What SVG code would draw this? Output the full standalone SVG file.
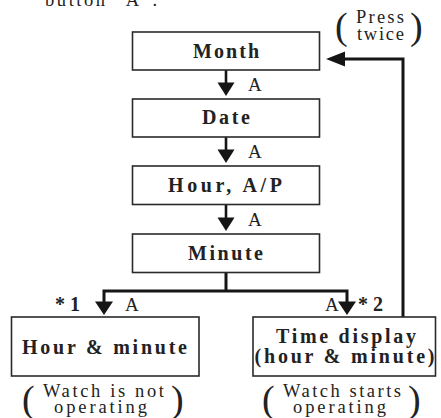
<svg xmlns="http://www.w3.org/2000/svg" width="441" height="418" viewBox="0 0 441 418">
<defs>
<style>
.box{fill:#fff;stroke:#2a2a2a;stroke-width:1.6}
.lbl{font-family:"Liberation Serif","Times New Roman",serif;font-weight:bold;font-size:20px;fill:#222}
.reg{font-family:"Liberation Serif","Times New Roman",serif;font-size:19px;fill:#222}
.note{font-family:"Liberation Serif","Times New Roman",serif;font-size:18.5px;fill:#222}
.par{font-family:"Liberation Serif","Times New Roman",serif;font-size:38px;fill:#222}
.ln{fill:none;stroke:#151515;stroke-width:3}
.stem{fill:none;stroke:#151515;stroke-width:2.6}
.head{fill:#151515}
</style>
</defs>
<rect width="441" height="418" fill="#fff"/>
<text class="note" x="45" y="6" textLength="112" lengthAdjust="spacing">button “A”.</text>

<g id="connectors">
  <line class="stem" x1="226" y1="70" x2="226" y2="84"/>
  <polygon class="head" points="217.5,82.5 234.5,82.5 226,96"/>
  <line class="stem" x1="226" y1="137" x2="226" y2="151"/>
  <polygon class="head" points="217.5,149.5 234.5,149.5 226,163"/>
  <line class="stem" x1="226" y1="204.5" x2="226" y2="219"/>
  <polygon class="head" points="217.5,217.5 234.5,217.5 226,231"/>
  <polyline class="ln" points="226,272.5 226,291"/>
  <polyline class="ln" points="104,303 104,291 347,291 347,303"/>
  <polygon class="head" points="95,301.5 113,301.5 104,315"/>
  <polygon class="head" points="338,301.5 356,301.5 347,315"/>
  <polyline class="ln" points="403,317 403,59 343,59"/>
  <polygon class="head" points="345,51.5 345,66.5 326,59"/>
  <text class="reg" x="248" y="91">A</text>
  <text class="reg" x="248" y="158">A</text>
  <text class="reg" x="248" y="226">A</text>
  <text class="reg" x="125" y="311">A</text>
  <text class="reg" x="325" y="311">A</text>
  <text class="lbl" x="55" y="311" textLength="25" lengthAdjust="spacing">*1</text>
  <text class="lbl" x="358" y="311" textLength="25" lengthAdjust="spacing">*2</text>
</g>

<g id="press-twice">
  <text class="par" x="335" y="39">(</text>
  <text class="par" x="410" y="39">)</text>
  <text class="note" x="356" y="23" textLength="48" lengthAdjust="spacing">Press</text>
  <text class="note" x="357" y="40" textLength="47" lengthAdjust="spacing">twice</text>
</g>

<g id="month">
  <rect class="box" x="132.5" y="32" width="187" height="38"/>
  <text class="lbl" x="193" y="58" textLength="66" lengthAdjust="spacing">Month</text>
</g>
<g id="date">
  <rect class="box" x="132.5" y="99" width="187" height="38"/>
  <text class="lbl" x="202" y="124" textLength="48" lengthAdjust="spacing">Date</text>
</g>
<g id="hour-ap">
  <rect class="box" x="132.5" y="166" width="187" height="38.5"/>
  <text class="lbl" x="168" y="192" textLength="114" lengthAdjust="spacing">Hour, A/P</text>
</g>
<g id="minute">
  <rect class="box" x="132.5" y="234" width="187" height="38.5"/>
  <text class="lbl" x="188" y="260" textLength="75" lengthAdjust="spacing">Minute</text>
</g>
<g id="hour-minute">
  <rect class="box" x="11.5" y="317" width="187.5" height="59"/>
  <text class="lbl" x="22" y="354" textLength="165" lengthAdjust="spacing">Hour &amp; minute</text>
</g>
<g id="time-display">
  <rect class="box" x="253" y="317" width="182.5" height="59"/>
  <text class="lbl" x="276" y="343" textLength="140" lengthAdjust="spacing">Time display</text>
  <text class="lbl" x="254.5" y="363" textLength="180" lengthAdjust="spacing">(hour &amp; minute)</text>
</g>

<g id="note-left">
  <text class="par" x="22" y="412">(</text>
  <text class="par" x="171" y="412">)</text>
  <text class="note" x="43" y="397" textLength="121" lengthAdjust="spacing">Watch is not</text>
  <text class="note" x="54" y="413" textLength="93" lengthAdjust="spacing">operating</text>
</g>
<g id="note-right">
  <text class="par" x="262" y="412">(</text>
  <text class="par" x="408" y="412">)</text>
  <text class="note" x="283" y="397" textLength="118" lengthAdjust="spacing">Watch starts</text>
  <text class="note" x="293" y="413" textLength="93" lengthAdjust="spacing">operating</text>
</g>
</svg>
